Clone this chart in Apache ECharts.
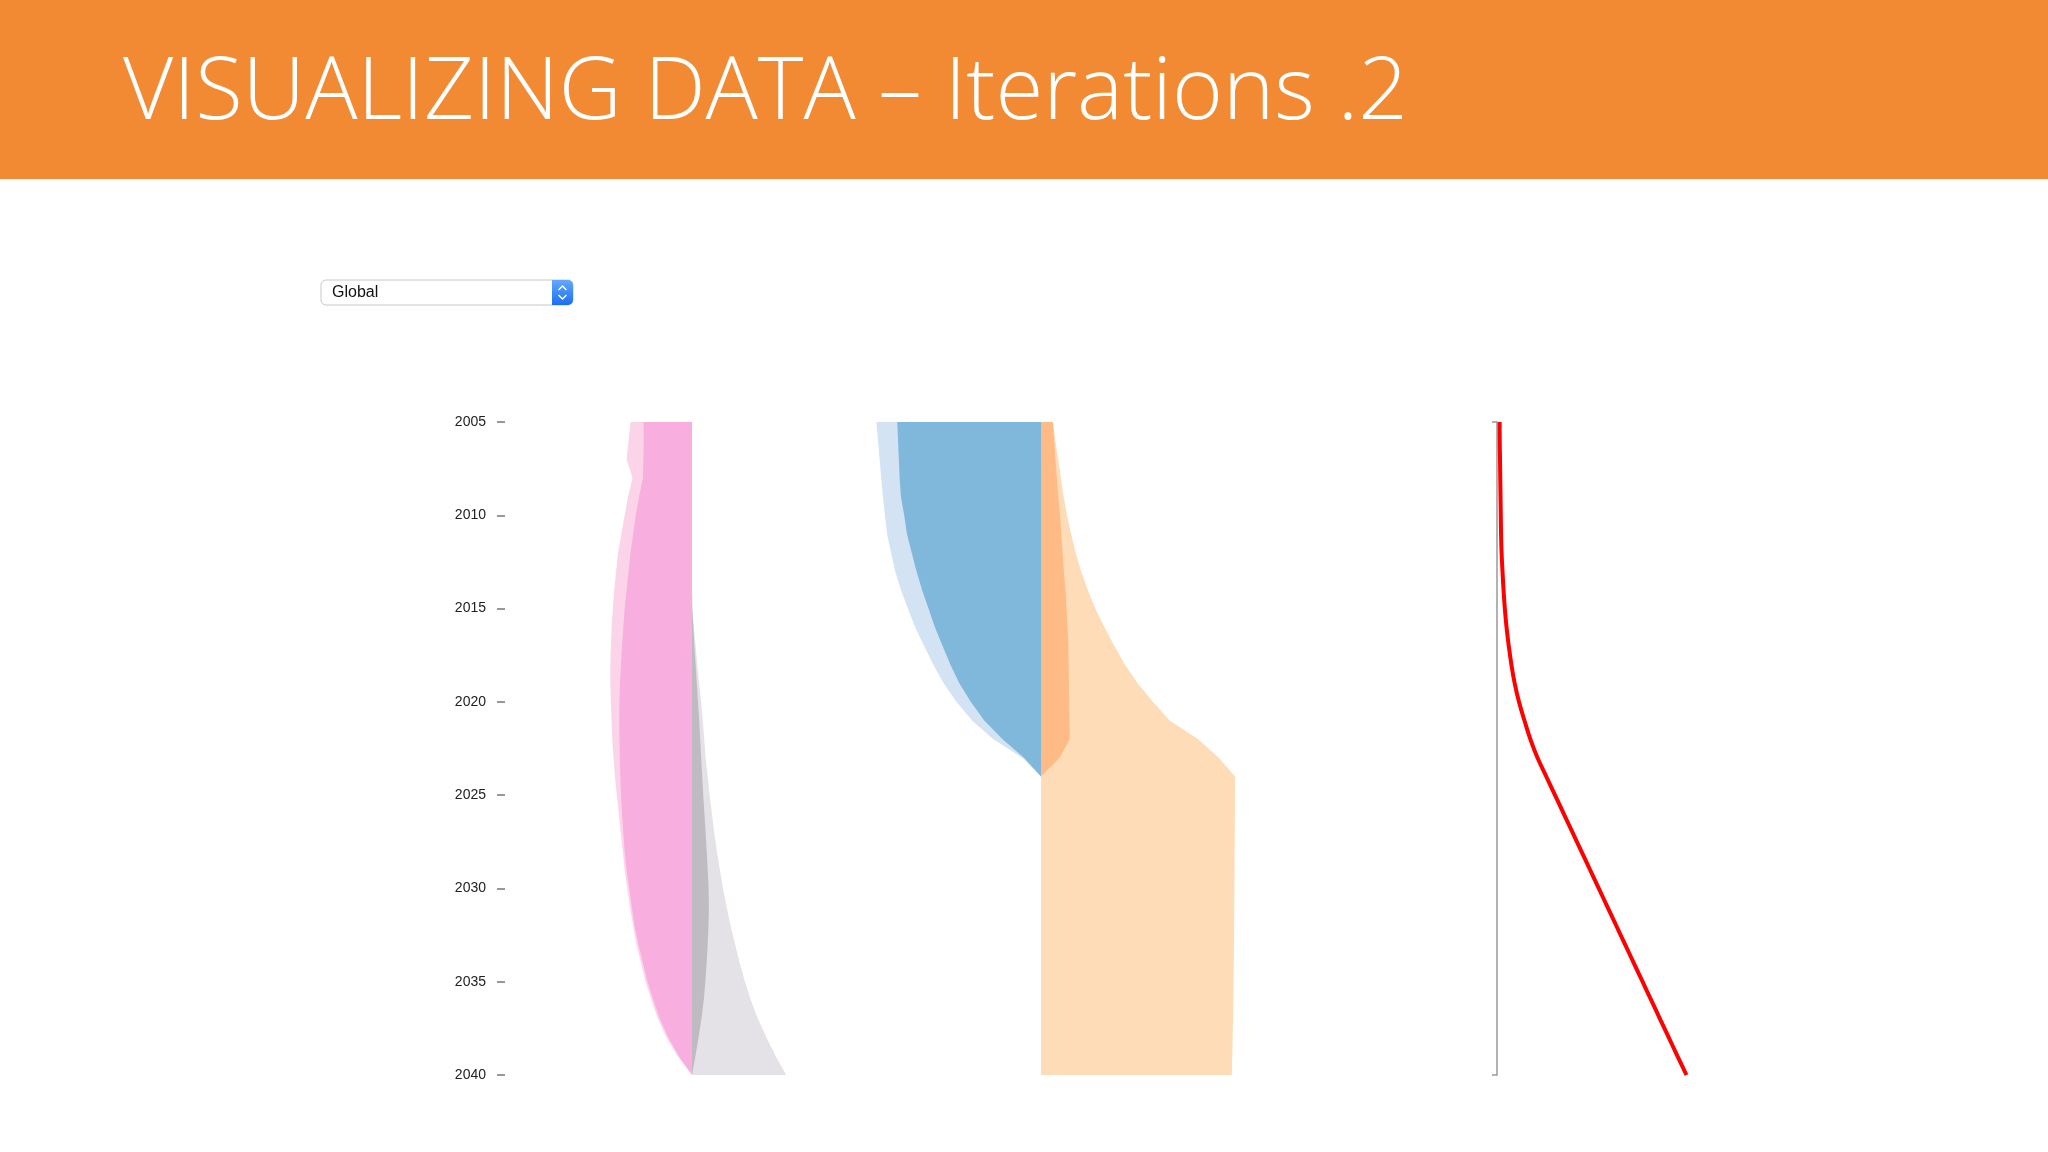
<!DOCTYPE html>
<html lang="en">
<head>
  <meta charset="UTF-8">
  <title>Visualizing Data - Iterations .2</title>
  <script src="https://cdn.jsdelivr.net/npm/echarts@6/dist/echarts.min.js"></script>
  <style>
    html, body { margin: 0; padding: 0; background: #fff; }
  </style>
</head>
<body>
<div id="main" style="width: 2048px;height:1152px;"></div>
<script type="text/javascript">

// years on the vertical axis (top to bottom)
var years = [2005, 2006, 2007, 2008, 2009, 2010, 2011, 2012, 2013, 2014,
  2015, 2016, 2017, 2018, 2019, 2020, 2021, 2022, 2023, 2024,
  2025, 2026, 2027, 2028, 2029, 2030, 2031, 2032, 2033, 2034,
  2035, 2036, 2037, 2038, 2039, 2040];

// left panel: pink to the left of the centre, grey to the right
var pinkLight = [-47, -48.5, -50, -45.5, -49, -51.5, -54, -56.5, -58, -59.5,
  -60.5, -61.5, -62, -62.5, -62.5, -62, -61.5, -61, -60, -59,
  -57.5, -56, -54.5, -53, -51.5, -49.5, -47.5, -45, -42.5, -39,
  -35.5, -31, -26, -19.5, -11, 0];
var pinkDark = [-37, -37, -37.2, -37.5, -40.5, -43, -45, -47, -48.5, -50,
  -51.5, -52.5, -53.5, -54.3, -55, -55.5, -55.6, -55.5, -55.2, -54.8,
  -54.3, -53.5, -52.5, -51.5, -50, -48, -46, -44, -41, -37.5,
  -34, -29.5, -24.5, -18, -10, 0];
var greyLight = [0, 0, 0, 0, 0, 0, 0, 0, 0, 0,
  0.3, 1.5, 2.8, 4, 5.5, 7, 8.2, 9.4, 10.4, 12,
  13.5, 15.2, 17, 19, 21.3, 23.7, 26.5, 29.5, 33, 36.5,
  40.5, 45, 50.5, 57, 64, 72];
var greyDark = [0, 0, 0, 0, 0, 0, 0, 0, 0, 0,
  0.2, 1, 1.8, 2.8, 3.7, 4.6, 5.5, 6.3, 7, 7.8,
  8.6, 9.5, 10.4, 11.2, 12, 12.7, 12.9, 12.6, 12, 11.2,
  10.2, 9, 7.2, 5, 2.6, 0];

// middle panel: blue to the left, orange to the right
var blueLight = [-126, -124.7, -123.5, -122.3, -121, -119.4, -117.8, -114.8, -111.6, -107.2,
  -101.9, -96.3, -89.4, -82.5, -74.5, -64.7, -52.8, -36.5, -14.3, 0,
  '-', '-', '-', '-', '-', '-', '-', '-', '-', '-',
  '-', '-', '-', '-', '-', '-'];
var blueDark = [-110, -109.4, -108.8, -108.2, -107.2, -104.7, -102.6, -99, -95.3, -91,
  -86.1, -81.2, -75.3, -69.4, -62.5, -53.8, -43.4, -29.4, -13, 0,
  '-', '-', '-', '-', '-', '-', '-', '-', '-', '-',
  '-', '-', '-', '-', '-', '-'];
var peach = [9, 11, 13.2, 15.2, 17.4, 19.9, 23, 26.5, 30.7, 35.8,
  41.5, 48.6, 56.2, 64.1, 73.9, 85.6, 98.4, 120.3, 136, 148.5,
  148.5, 148.4, 148.3, 148.2, 148.1, 148, 147.9, 147.8, 147.7, 147.6,
  147.4, 147.2, 147, 146.7, 146.4, 146];
var orangeDark = [9, 10.1, 11.1, 12.1, 13.2, 14.6, 15.5, 16.5, 17.5, 18.8,
  19.5, 20.3, 20.9, 21.2, 21.4, 21.6, 21.8, 22, 14.3, 0,
  '-', '-', '-', '-', '-', '-', '-', '-', '-', '-',
  '-', '-', '-', '-', '-', '-'];

// right panel: red line
var redLine = [2, 2.1, 2.3, 2.5, 2.7, 2.9, 3.1, 3.5, 4.2, 5,
  6, 7.3, 9, 11, 13.5, 16.8, 21, 25.5, 31, 37.7,
  44.4, 51.1, 57.8, 64.5, 71.2, 77.9, 84.6, 91.3, 98, 104.7,
  111.4, 118.1, 124.8, 131.5, 138.2, 145];

var myChart = echarts.init(document.getElementById('main'));

function areaSeries(name, data, grid, color) {
  return {
    name: name,
    type: 'line',
    xAxisIndex: grid,
    yAxisIndex: grid,
    data: data,
    symbol: 'none',
    lineStyle: { width: 0 },
    areaStyle: { color: color, opacity: 1 },
    silent: true
  };
}

function catAxis(grid) {
  return {
    type: 'category',
    gridIndex: grid,
    data: years,
    inverse: true,
    boundaryGap: false,
    axisLine: { show: false, onZero: false },
    axisTick: { show: false },
    axisLabel: { show: false },
    splitLine: { show: false }
  };
}

var yLeft = catAxis(0);
yLeft.axisTick = { show: true, interval: 4, length: 8, lineStyle: { color: '#777', width: 1.5 } };
yLeft.axisLabel = { show: true, interval: 4, margin: 19, fontSize: 14, color: '#222',
  fontFamily: 'Liberation Sans' };

var yRight = catAxis(2);
yRight.axisLine = { show: true, onZero: false, lineStyle: { color: '#999', width: 1.5 } };
yRight.axisTick = {
  show: true, length: 5, lineStyle: { color: '#999', width: 1.5 },
  interval: function (i) { return i === 0 || i === years.length - 1; }
};

var option = {
  backgroundColor: '#fff',
  animation: false,
  graphic: [
    { type: 'rect', shape: { x: 0, y: 0, width: 2048, height: 179 }, style: { fill: '#f18a32' } },
    { type: 'text', x: 123, y: 94,
      style: { text: 'VISUALIZING DATA \u2013 Iterations .2', fill: '#fff',
        fontFamily: 'Open Sans', fontWeight: 300, fontSize: 87, verticalAlign: 'middle' } },
    // the region drop-down
    { type: 'rect', shape: { x: 321, y: 280, width: 252, height: 25, r: 5 },
      style: { fill: '#fff', stroke: '#c8c8c8', lineWidth: 1 } },
    { type: 'rect', shape: { x: 552, y: 280, width: 21, height: 25, r: [0, 5, 5, 0] },
      style: { fill: new echarts.graphic.LinearGradient(0, 0, 0, 1, [
        { offset: 0, color: '#63a8fb' }, { offset: 1, color: '#1b6ff2' }]) } },
    { type: 'polyline', shape: { points: [[558.5, 290], [562.5, 286], [566.5, 290]] },
      style: { stroke: '#fff', lineWidth: 1.5, fill: null } },
    { type: 'polyline', shape: { points: [[558.5, 295], [562.5, 299], [566.5, 295]] },
      style: { stroke: '#fff', lineWidth: 1.5, fill: null } },
    { type: 'text', x: 332, y: 293,
      style: { text: 'Global', fill: '#111', fontFamily: 'Liberation Sans', fontSize: 16, verticalAlign: 'middle' } }
  ],
  grid: [
    { left: 505, top: 422, width: 374, height: 653 },
    { left: 845, top: 422, width: 392, height: 653 },
    { left: 1497, top: 422, width: 196, height: 653 }
  ],
  xAxis: [
    { type: 'value', gridIndex: 0, min: -143, max: 143, show: false },
    { type: 'value', gridIndex: 1, min: -150, max: 150, show: false },
    { type: 'value', gridIndex: 2, min: 0, max: 150, show: false }
  ],
  yAxis: [yLeft, catAxis(1), yRight],
  series: [
    areaSeries('pink outer', pinkLight, 0, '#fcd4ea'),
    areaSeries('pink', pinkDark, 0, '#f8aede'),
    areaSeries('grey outer', greyLight, 0, '#e4e2e6'),
    areaSeries('grey', greyDark, 0, '#bebcc0'),
    areaSeries('blue outer', blueLight, 1, '#d3e3f3'),
    areaSeries('blue', blueDark, 1, '#80b8dc'),
    areaSeries('peach', peach, 1, '#ffdcb8'),
    areaSeries('orange', orangeDark, 1, '#ffbb86'),
    {
      name: 'red',
      type: 'line',
      xAxisIndex: 2,
      yAxisIndex: 2,
      data: redLine,
      symbol: 'none',
      smooth: 0.4,
      lineStyle: { color: '#ff0000', width: 4 },
      silent: true
    }
  ]
};

myChart.setOption(option);

</script>
</body>
</html>
